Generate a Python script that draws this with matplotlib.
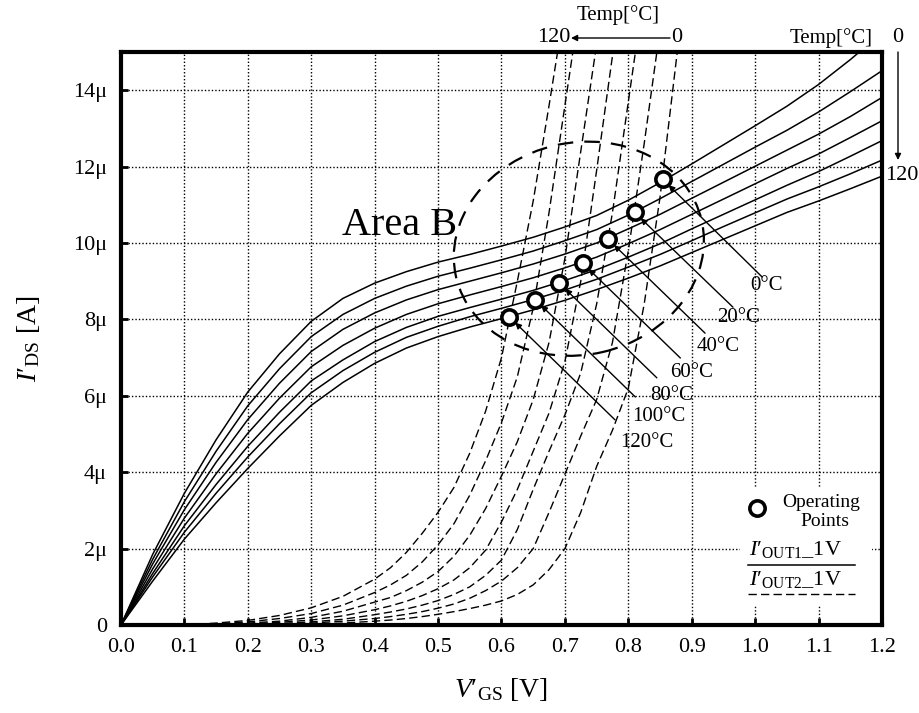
import numpy as np
import matplotlib.pyplot as plt
from matplotlib.patches import Ellipse, Rectangle
from matplotlib.transforms import ScaledTranslation

plt.rcParams['font.family'] = ['Liberation Serif', 'DejaVu Serif']
plt.rcParams['mathtext.fontset'] = 'custom'
plt.rcParams['mathtext.rm'] = 'Liberation Serif'
plt.rcParams['mathtext.it'] = 'Liberation Serif:italic'

temps = [0, 20, 40, 60, 80, 100, 120]

# I'OUT1_1V (solid), in uA
vgs1 = [0, 0.05, 0.1, 0.15, 0.2, 0.25, 0.3, 0.35, 0.4, 0.45, 0.5, 0.55, 0.6,
        0.65, 0.7, 0.75, 0.8, 0.85, 0.9, 0.95, 1.0, 1.05, 1.1, 1.15, 1.2]
iout1_t0 = [0, 1.85, 3.45, 4.85, 6.1, 7.1, 7.95, 8.55, 8.95, 9.25, 9.5, 9.7, 9.92,
            10.15, 10.42, 10.72, 11.12, 11.58, 12.07, 12.57, 13.07, 13.58, 14.15, 14.8, 15.5]
iout1_t20 = [0, 1.72, 3.23, 4.55, 5.74, 6.71, 7.55, 8.13, 8.55, 8.87, 9.13, 9.34, 9.56,
             9.79, 10.06, 10.35, 10.73, 11.16, 11.61, 12.06, 12.51, 12.95, 13.43, 13.96, 14.51]
iout1_t40 = [0, 1.60, 3.02, 4.26, 5.38, 6.33, 7.16, 7.74, 8.17, 8.51, 8.78, 9.00, 9.22,
             9.45, 9.71, 10.00, 10.37, 10.75, 11.17, 11.59, 12.01, 12.43, 12.85, 13.31, 13.81]
iout1_t60 = [0, 1.47, 2.80, 3.96, 5.02, 5.94, 6.76, 7.32, 7.77, 8.13, 8.41, 8.64, 8.86,
             9.09, 9.35, 9.63, 9.98, 10.35, 10.75, 11.15, 11.55, 11.95, 12.33, 12.76, 13.20]
iout1_t80 = [0, 1.35, 2.60, 3.68, 4.68, 5.57, 6.39, 6.94, 7.42, 7.79, 8.08, 8.31, 8.53,
             8.76, 9.02, 9.30, 9.63, 9.98, 10.37, 10.75, 11.13, 11.51, 11.87, 12.27, 12.68]
iout1_t100 = [0, 1.26, 2.43, 3.45, 4.40, 5.27, 6.08, 6.66, 7.14, 7.53, 7.82, 8.07, 8.29,
              8.52, 8.77, 9.05, 9.37, 9.70, 10.06, 10.43, 10.79, 11.15, 11.47, 11.81, 12.17]
iout1_t120 = [0, 1.15, 2.25, 3.2, 4.1, 4.95, 5.75, 6.35, 6.85, 7.25, 7.55, 7.8, 8.02,
              8.25, 8.5, 8.78, 9.08, 9.4, 9.75, 10.1, 10.45, 10.8, 11.1, 11.42, 11.75]

# I'OUT2_1V (dashed), in uA
vgs2 = [0.1, 0.15, 0.2, 0.25, 0.3, 0.35, 0.4, 0.425, 0.45, 0.475, 0.5, 0.525, 0.55, 0.575,
        0.6, 0.625, 0.65, 0.675, 0.7, 0.725, 0.75, 0.775, 0.8, 0.825, 0.85, 0.875, 0.9]
iout2_t0 = [0, 0, 0.005, 0.01, 0.02, 0.05, 0.1, 0.13, 0.17, 0.22, 0.28, 0.35, 0.43, 0.52,
            0.63, 0.8, 1.05, 1.45, 2.0, 2.95, 4.15, 5.1, 6.2, 8.4, 11.2, 14.7, 18.3]
iout2_t20 = [0, 0, 0.01, 0.02, 0.05, 0.1, 0.17, 0.22, 0.28, 0.35, 0.44, 0.55, 0.7, 0.9,
             1.15, 1.5, 2.0, 2.95, 3.95, 4.95, 5.9, 7.4, 9.8, 12.6, 15.6]
iout2_t40 = [0, 0.005, 0.02, 0.04, 0.08, 0.15, 0.27, 0.34, 0.42, 0.52, 0.64, 0.8, 1.0, 1.3,
             1.7, 2.5, 3.55, 4.55, 5.5, 6.6, 8.4, 10.8, 13.7, 16.6]
iout2_t60 = [0, 0.01, 0.03, 0.07, 0.13, 0.24, 0.4, 0.5, 0.62, 0.77, 0.95, 1.18, 1.5, 1.96,
             2.7, 3.55, 4.55, 5.55, 6.9, 9.0, 11.9, 14.9, 18.0]
iout2_t80 = [0, 0.02, 0.05, 0.1, 0.2, 0.36, 0.6, 0.72, 0.9, 1.12, 1.4, 1.8, 2.35, 3.05,
             3.9, 4.8, 5.9, 7.4, 9.6, 12.4, 15.2]
iout2_t100 = [0, 0.03, 0.08, 0.17, 0.3, 0.52, 0.85, 1.05, 1.3, 1.65, 2.1, 2.65, 3.4, 4.3,
              5.3, 6.5, 8.3, 10.8, 13.6, 16.4]
iout2_t120 = [0, 0.05, 0.12, 0.25, 0.45, 0.75, 1.2, 1.5, 1.9, 2.4, 2.95, 3.6, 4.5, 5.6,
              7.0, 9.0, 11.1, 13.6, 16.2]

# operating points (intersections)
op_v = [0.854, 0.810, 0.768, 0.728, 0.691, 0.653, 0.612]
op_i = [11.67, 10.80, 10.10, 9.47, 8.95, 8.52, 8.07]
op_labels = ['0°C', '20°C', '40°C', '60°C', '80°C', '100°C', '120°C']
label_x = [0.992, 0.940, 0.908, 0.866, 0.834, 0.806, 0.787]
label_y = [8.9, 8.04, 7.28, 6.6, 6.02, 5.45, 4.79]
tail_x = [1.011, 0.965, 0.921, 0.882, 0.845, 0.811, 0.779]
tail_y = [9.11, 8.32, 7.64, 6.99, 6.47, 5.97, 5.37]

xticks = [0.0, 0.1, 0.2, 0.3, 0.4, 0.5, 0.6, 0.7, 0.8, 0.9, 1.0, 1.1, 1.2]
yticks = [0, 2, 4, 6, 8, 10, 12, 14]
ytick_labels = ['0', '2μ', '4μ', '6μ', '8μ', '10μ', '12μ', '14μ']

fig = plt.figure(figsize=(9.2, 7.13), dpi=100)
ax = fig.add_axes([121 / 920, 88 / 713, 761 / 920, 573 / 713])

solid = [iout1_t0, iout1_t20, iout1_t40, iout1_t60, iout1_t80, iout1_t100, iout1_t120]
dashed = [iout2_t0, iout2_t20, iout2_t40, iout2_t60, iout2_t80, iout2_t100, iout2_t120]
for ys in solid:
    ax.plot(vgs1, ys, color='k', lw=1.1, zorder=3)
for ys in dashed:
    ax.plot(vgs2[:len(ys)], ys, color='k', lw=1.0, ls=(0, (6, 3)), zorder=3)

# Area B ellipse (size in inches, centred on a data point)
ell = Ellipse((0, 0), 2.52, 2.12, angle=13, fill=False, ec='k', lw=1.6, ls=(0, (7, 5)),
              transform=fig.dpi_scale_trans + ScaledTranslation(0.722, 9.85, ax.transData), zorder=4)
ax.add_patch(ell)
ax.text(0.44, 10.45, 'Area B', fontsize=29, ha='center', va='center', zorder=5)

for i in range(7):
    ax.annotate('', xy=(op_v[i], op_i[i]), xytext=(tail_x[i], tail_y[i]),
                arrowprops=dict(arrowstyle='-|>', color='k', lw=1.0, shrinkA=0, shrinkB=6,
                                mutation_scale=9), zorder=4)
    ax.text(label_x[i], label_y[i], op_labels[i], fontsize=15, ha='left', va='center', zorder=5)
ax.plot(op_v, op_i, 'o', ms=11, mfc='white', mec='k', mew=2.6, zorder=6, clip_on=False)

# legend block (white patch hides the grid behind it)
ax.add_patch(Rectangle((740, 108), 132, 117, transform=None, fc='white', ec='none', zorder=2))
ax.plot([1.003], [3.05], 'o', ms=11, mfc='white', mec='k', mew=2.6, zorder=6)
ax.text(1.043, 3.2, 'Operating', fontsize=14, ha='left', va='center', zorder=5)
ax.text(1.11, 2.7, 'Points', fontsize=14, ha='center', va='center', zorder=5)
ax.text(1.064, 1.98, r"$I$′$_{\mathrm{OUT1}}$_1V", fontsize=16, ha='center', va='center', zorder=5)
ax.plot([0.988, 1.158], [1.57, 1.57], color='k', lw=1.1, zorder=5)
ax.text(1.064, 1.2, r"$I$′$_{\mathrm{OUT2}}$_1V", fontsize=16, ha='center', va='center', zorder=5)
ax.plot([0.988, 1.158], [0.81, 0.81], color='k', lw=1.0, ls=(0, (6, 3)), zorder=5)

ax.set_xlim(0, 1.2)
ax.set_ylim(0, 15)
ax.set_xticks(xticks)
ax.set_xticklabels([f'{v:.1f}' for v in xticks])
ax.set_yticks(yticks)
ax.set_yticklabels(ytick_labels)
ax.tick_params(direction='in', length=5, width=2, labelsize=16)
ax.tick_params(axis='x', pad=9)
ax.tick_params(axis='y', pad=10)
ax.grid(True, color='k', ls=(0, (1, 1.5)), lw=1.0)
for s in ax.spines.values():
    s.set_linewidth(3)
ax.set_axisbelow(True)

ax.set_xlabel(r"$V$′$_{\mathrm{GS}}$ [V]", fontsize=20, labelpad=14)
ax.set_ylabel(r"$I$′$_{\mathrm{DS}}$ [A]", fontsize=20, labelpad=22)

# temperature direction markers
fig.text(618 / 920, (713 - 15) / 713, 'Temp[°C]', fontsize=15, ha='center', va='center')
fig.text(554 / 920, (713 - 38) / 713, '120', fontsize=16, ha='center', va='center')
fig.text(677 / 920, (713 - 38) / 713, '0', fontsize=16, ha='center', va='center')
ax.annotate('', xy=(571, 713 - 38), xytext=(670, 713 - 38), xycoords='figure pixels',
            textcoords='figure pixels',
            arrowprops=dict(arrowstyle='-|>', color='k', lw=1.0, shrinkA=0, shrinkB=0, mutation_scale=9))
fig.text(831 / 920, (713 - 38) / 713, 'Temp[°C]', fontsize=15, ha='center', va='center')
fig.text(898 / 920, (713 - 38) / 713, '0', fontsize=16, ha='center', va='center')
ax.annotate('', xy=(898, 713 - 160), xytext=(898, 713 - 52), xycoords='figure pixels',
            textcoords='figure pixels',
            arrowprops=dict(arrowstyle='-|>', color='k', lw=1.0, shrinkA=0, shrinkB=0, mutation_scale=9))
fig.text(902 / 920, (713 - 176) / 713, '120', fontsize=16, ha='center', va='center')

fig.savefig('out.png', dpi=100)
